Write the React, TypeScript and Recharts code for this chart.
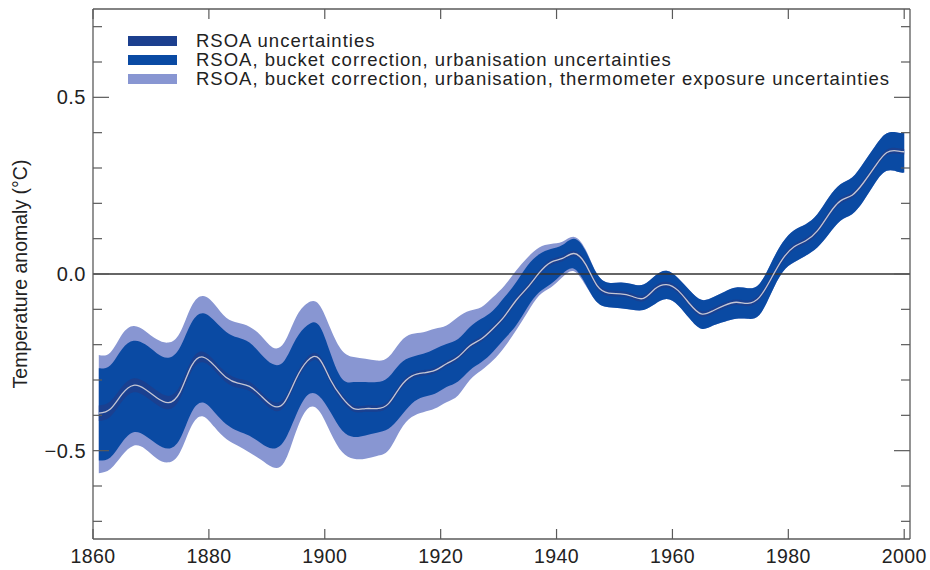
import { ComposedChart, Area, Line, XAxis, YAxis, ReferenceLine } from 'recharts';

// smoothed global temperature anomaly (deg C), every other year
const years = [
  1861, 1863, 1865, 1867, 1869, 1871, 1873, 1875, 1877, 1879,
  1881, 1883, 1885, 1887, 1889, 1891, 1893, 1895, 1897, 1899,
  1901, 1903, 1905, 1907, 1909, 1911, 1913, 1915, 1917, 1919,
  1921, 1923, 1925, 1927, 1929, 1931, 1933, 1935, 1937, 1939,
  1941, 1943, 1945, 1947, 1949, 1951, 1953, 1955, 1957, 1959,
  1961, 1963, 1965, 1967, 1969, 1971, 1973, 1975, 1977, 1979,
  1981, 1983, 1985, 1987, 1989, 1991, 1993, 1995, 1997, 1999,
  2000,
];

const anomaly = [
  -0.394, -0.382, -0.340, -0.315, -0.326, -0.350, -0.364, -0.335, -0.260, -0.235,
  -0.260, -0.293, -0.309, -0.318, -0.345, -0.373, -0.364, -0.298, -0.246, -0.239,
  -0.300, -0.350, -0.381, -0.381, -0.381, -0.367, -0.320, -0.289, -0.280, -0.273,
  -0.254, -0.235, -0.204, -0.184, -0.155, -0.120, -0.075, -0.038, 0.003, 0.033,
  0.044, 0.058, 0.028, -0.033, -0.054, -0.056, -0.063, -0.069, -0.042, -0.030,
  -0.047, -0.085, -0.113, -0.104, -0.089, -0.080, -0.083, -0.066, -0.014, 0.042,
  0.077, 0.094, 0.122, 0.169, 0.207, 0.223, 0.259, 0.305, 0.344, 0.348,
  0.346,
];

// half width of the RSOA-only uncertainty
const rsoaErr = [
  0.022, 0.022, 0.021, 0.020, 0.020, 0.020, 0.019, 0.018, 0.016, 0.015,
  0.014, 0.014, 0.013, 0.013, 0.012, 0.012, 0.012, 0.011, 0.011, 0.010,
  0.010, 0.010, 0.009, 0.009, 0.009, 0.009, 0.009, 0.008, 0.008, 0.008,
  0.008, 0.008, 0.008, 0.008, 0.008, 0.008, 0.008, 0.008, 0.008, 0.008,
  0.008, 0.008, 0.008, 0.008, 0.008, 0.008, 0.008, 0.008, 0.008, 0.008,
  0.008, 0.008, 0.008, 0.008, 0.008, 0.008, 0.008, 0.008, 0.008, 0.008,
  0.008, 0.008, 0.008, 0.008, 0.008, 0.008, 0.008, 0.008, 0.008, 0.008,
  0.008,
];

const bucketHigh = [
  -0.267, -0.258, -0.213, -0.189, -0.199, -0.224, -0.237, -0.208, -0.138, -0.111,
  -0.133, -0.164, -0.180, -0.194, -0.227, -0.255, -0.246, -0.185, -0.145, -0.145,
  -0.225, -0.297, -0.306, -0.306, -0.306, -0.292, -0.254, -0.235, -0.226, -0.212,
  -0.198, -0.184, -0.151, -0.127, -0.104, -0.066, -0.024, 0.024, 0.056, 0.071,
  0.082, 0.100, 0.066, 0.000, -0.025, -0.024, -0.028, -0.030, -0.005, 0.009,
  -0.012, -0.047, -0.073, -0.066, -0.050, -0.038, -0.040, -0.028, 0.030, 0.089,
  0.124, 0.141, 0.169, 0.217, 0.254, 0.273, 0.315, 0.362, 0.398, 0.400,
  0.400,
];

const bucketLow = [
  -0.528, -0.519, -0.477, -0.448, -0.458, -0.481, -0.494, -0.467, -0.392, -0.364,
  -0.392, -0.425, -0.444, -0.458, -0.479, -0.494, -0.472, -0.401, -0.343, -0.345,
  -0.391, -0.443, -0.461, -0.457, -0.449, -0.438, -0.405, -0.367, -0.348, -0.339,
  -0.320, -0.304, -0.273, -0.250, -0.221, -0.184, -0.146, -0.094, -0.052, -0.028,
  0.000, 0.015, -0.028, -0.080, -0.094, -0.097, -0.101, -0.102, -0.085, -0.071,
  -0.089, -0.127, -0.155, -0.146, -0.135, -0.127, -0.127, -0.116, -0.056, 0.005,
  0.033, 0.052, 0.075, 0.113, 0.151, 0.169, 0.207, 0.258, 0.292, 0.289,
  0.287,
];

const exposureHigh = [
  -0.229, -0.222, -0.171, -0.147, -0.161, -0.185, -0.194, -0.166, -0.091, -0.062,
  -0.086, -0.124, -0.138, -0.149, -0.175, -0.208, -0.194, -0.124, -0.083, -0.086,
  -0.155, -0.217, -0.235, -0.240, -0.245, -0.235, -0.193, -0.170, -0.165, -0.155,
  -0.146, -0.122, -0.104, -0.094, -0.066, -0.033, 0.009, 0.047, 0.075, 0.085,
  0.091, 0.105, 0.070, 0.000, -0.025, -0.024, -0.028, -0.030, -0.005, 0.009,
  -0.012, -0.047, -0.073, -0.066, -0.050, -0.038, -0.040, -0.028, 0.030, 0.089,
  0.124, 0.141, 0.169, 0.217, 0.254, 0.273, 0.315, 0.362, 0.398, 0.400,
  0.400,
];

const exposureLow = [
  -0.564, -0.552, -0.514, -0.486, -0.495, -0.522, -0.533, -0.505, -0.430, -0.403,
  -0.434, -0.467, -0.486, -0.505, -0.526, -0.547, -0.533, -0.448, -0.382, -0.387,
  -0.449, -0.504, -0.523, -0.523, -0.515, -0.499, -0.443, -0.405, -0.391, -0.381,
  -0.363, -0.344, -0.301, -0.273, -0.245, -0.207, -0.160, -0.108, -0.061, -0.038,
  -0.009, 0.008, -0.032, -0.080, -0.094, -0.097, -0.101, -0.102, -0.085, -0.071,
  -0.089, -0.127, -0.155, -0.146, -0.135, -0.127, -0.127, -0.116, -0.056, 0.005,
  0.033, 0.052, 0.075, 0.113, 0.151, 0.169, 0.207, 0.258, 0.292, 0.289,
  0.287,
];

const xTicks = [1860, 1880, 1900, 1920, 1940, 1960, 1980, 2000];
const yTicks = [-0.7, -0.6, -0.5, -0.4, -0.3, -0.2, -0.1, 0, 0.1, 0.2, 0.3, 0.4, 0.5, 0.6, 0.7];
const yLabelled = [-0.5, 0, 0.5];

const legendItems = [
  { label: 'RSOA uncertainties', color: '#1c3f8e' },
  { label: 'RSOA, bucket correction, urbanisation uncertainties', color: '#0a4aa3' },
  { label: 'RSOA, bucket correction, urbanisation, thermometer exposure uncertainties', color: '#8896d2' },
];

const data = years.map((year, i) => ({
  year,
  exposure: [exposureLow[i], exposureHigh[i]],
  bucket: [bucketLow[i], bucketHigh[i]],
  rsoa: [anomaly[i] - rsoaErr[i], anomaly[i] + rsoaErr[i]],
  anomaly: anomaly[i],
}));

const FONT = '"Liberation Sans", Arial, Helvetica, sans-serif';
const AXIS = '#5a5a5a';

const isLabelled = (v: number) => yLabelled.some((t) => Math.abs(t - v) < 1e-6);
const fmtY = (v: number) => (v < 0 ? '\u2212' + Math.abs(v).toFixed(1) : v.toFixed(1));

const LeftTick = ({ x, y, payload }: any) => {
  const major = isLabelled(payload.value);
  return (
    <g>
      <line x1={x} x2={x + (major ? 16 : 9)} y1={y} y2={y} stroke={AXIS} strokeWidth={1.2} />
      {major && (
        <text x={x - 7} y={y} dy={7} textAnchor="end" fontSize={20} letterSpacing={0.5} fill="#222" fontFamily={FONT}>
          {fmtY(payload.value)}
        </text>
      )}
    </g>
  );
};

const RightTick = ({ x, y, payload }: any) => {
  const major = isLabelled(payload.value);
  return <line x1={x - (major ? 16 : 9)} x2={x} y1={y} y2={y} stroke={AXIS} strokeWidth={1.2} />;
};

const BottomTick = ({ x, y, payload }: any) => (
  <g>
    <line x1={x} x2={x} y1={y - 10} y2={y} stroke={AXIS} strokeWidth={1.2} />
    <text x={x} y={y + 24} textAnchor="middle" fontSize={19.5} letterSpacing={0.4} fill="#222" fontFamily={FONT}>
      {payload.value}
    </text>
  </g>
);

const TopTick = ({ x, y }: any) => (
  <line x1={x} x2={x} y1={y} y2={y + 10} stroke={AXIS} strokeWidth={1.2} />
);

export default function App() {
  return (
    <div style={{ position: 'relative', width: 930, height: 570, fontFamily: FONT, background: '#fff' }}>
      <style>{'body { margin: 0; }'}</style>
      <ComposedChart width={930} height={570} data={data} margin={{ top: 0, right: 0, bottom: 0, left: 0 }}>
        <XAxis
          xAxisId="b"
          dataKey="year"
          type="number"
          domain={[1860, 2001]}
          ticks={xTicks}
          height={31}
          tickSize={0}
          tickMargin={0}
          tick={<BottomTick />}
          axisLine={{ stroke: AXIS, strokeWidth: 1.3 }}
          allowDataOverflow
        />
        <XAxis
          xAxisId="t"
          orientation="top"
          dataKey="year"
          type="number"
          domain={[1860, 2001]}
          ticks={xTicks}
          height={9}
          tickSize={0}
          tickMargin={0}
          tick={<TopTick />}
          axisLine={{ stroke: AXIS, strokeWidth: 1.3 }}
          allowDataOverflow
        />
        <YAxis
          yAxisId="l"
          type="number"
          domain={[-0.75, 0.75]}
          ticks={yTicks}
          width={93}
          tickSize={0}
          tickMargin={0}
          tick={<LeftTick />}
          axisLine={{ stroke: AXIS, strokeWidth: 1.3 }}
          allowDataOverflow
          label={{
            content: () => (
              <text
                x={0}
                y={0}
                transform="translate(27 274) rotate(-90)"
                textAnchor="middle"
                fontSize={19.5}
                fill="#222"
                fontFamily={FONT}
              >
                Temperature anomaly (°C)
              </text>
            ),
          }}
        />
        <YAxis
          yAxisId="r"
          orientation="right"
          type="number"
          domain={[-0.75, 0.75]}
          ticks={yTicks}
          width={20}
          tickSize={0}
          tickMargin={0}
          tick={<RightTick />}
          axisLine={{ stroke: AXIS, strokeWidth: 1.3 }}
          allowDataOverflow
        />
        <Area
          xAxisId="b"
          yAxisId="l"
          dataKey="exposure"
          type="natural"
          fill="#8896d2"
          fillOpacity={1}
          stroke="none"
          isAnimationActive={false}
        />
        <Area
          xAxisId="b"
          yAxisId="l"
          dataKey="bucket"
          type="natural"
          fill="#0a4aa3"
          fillOpacity={1}
          stroke="none"
          isAnimationActive={false}
        />
        <Area
          xAxisId="b"
          yAxisId="l"
          dataKey="rsoa"
          type="natural"
          fill="#1c3f8e"
          fillOpacity={0.9}
          stroke="none"
          isAnimationActive={false}
        />
        <ReferenceLine xAxisId="b" yAxisId="l" y={0} stroke="#333" strokeWidth={1.3} />
        <Line
          xAxisId="b"
          yAxisId="l"
          dataKey="anomaly"
          type="natural"
          stroke="#c4c6d4"
          strokeWidth={1.3}
          dot={false}
          isAnimationActive={false}
        />
      </ComposedChart>
      <div style={{ position: 'absolute', left: 128, top: 31 }}>
        {legendItems.map((item) => (
          <div key={item.label} style={{ display: 'flex', alignItems: 'center', height: 19 }}>
            <div style={{ width: 49, height: 10, background: item.color, marginRight: 19 }} />
            <span
              style={{ fontSize: 18.5, letterSpacing: 1, color: '#222', whiteSpace: 'nowrap', lineHeight: '19px' }}
            >
              {item.label}
            </span>
          </div>
        ))}
      </div>
    </div>
  );
}
